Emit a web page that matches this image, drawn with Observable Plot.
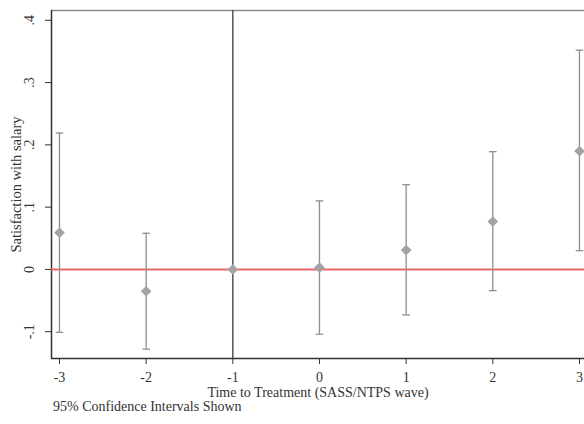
<!DOCTYPE html>
<html>
<head>
<meta charset="utf-8">
<script src="https://cdn.jsdelivr.net/npm/d3@7"></script>
<script src="https://cdn.jsdelivr.net/npm/@observablehq/plot@0.6"></script>
<style>
  html, body { margin: 0; padding: 0; background: #fff; }
  #chart { width: 584px; height: 424px; position: relative; font-family: "Liberation Serif", "DejaVu Serif", serif; }
  #caption { position: absolute; left: 53px; top: 399px; font-size: 14px; color: #333; white-space: nowrap; }
</style>
</head>
<body>
<div id="chart"></div>
<script>
// Data
const periods  = [-3, -2, -1, 0, 1, 2, 3];
const estimate = [0.059, -0.035, 0, 0.003, 0.031, 0.077, 0.190];
const ciLower  = [-0.101, -0.128, null, -0.104, -0.073, -0.034, 0.030];
const ciUpper  = [0.219, 0.058, null, 0.110, 0.136, 0.189, 0.352];
const yTicks   = [-0.1, 0, 0.1, 0.2, 0.3, 0.4];
const yTickLabels = ["-.1", "0", ".1", ".2", ".3", ".4"];
const xTicks   = [-3, -2, -1, 0, 1, 2, 3];
const treatmentLine = [-1];
const zeroLine = [0];
const xDomain = [-3.092, 3.058];
const yDomain = [-0.143, 0.4157];

const rows = periods.map((t, i) => ({t, est: estimate[i], lo: ciLower[i], hi: ciUpper[i]}));
const ciRows = rows.filter(d => d.lo != null);

const capSymbol = {
  draw(context, size) {
    const r = Math.sqrt(size / Math.PI);
    context.moveTo(-r, 0);
    context.lineTo(r, 0);
  }
};

const font = '"Liberation Serif", "DejaVu Serif", serif';

const chart = Plot.plot({
  width: 584,
  height: 404,
  marginLeft: 51,
  marginRight: 0,
  marginTop: 10,
  marginBottom: 46,
  style: {fontFamily: font, fontSize: "14px", color: "#333", background: "#fff"},
  x: {domain: xDomain, ticks: xTicks},
  y: {domain: yDomain, ticks: yTicks},
  marks: [
    Plot.ruleY([yDomain[1]], {stroke: "#8a8a8a", strokeWidth: 1.5}),
    Plot.ruleX([xDomain[0]], {stroke: "#333", strokeWidth: 1.5}),
    Plot.ruleY([yDomain[0]], {stroke: "#333", strokeWidth: 1.5}),
    Plot.axisX({
      ticks: xTicks, tickSize: 6, tickPadding: 8, tickFormat: d => String(d),
      stroke: "#333", fill: "#333", fontSize: 14,
      label: "Time to Treatment (SASS/NTPS wave)", labelAnchor: "center", labelArrow: "none", labelOffset: 38
    }),
    Plot.axisY({
      ticks: yTicks, tickSize: 6, tickPadding: 12, tickRotate: -90,
      tickFormat: d => yTickLabels[yTicks.findIndex(v => Math.abs(v - d) < 1e-9)],
      stroke: "#333", fill: "#333", fontSize: 14,
      label: null
    }),
    Plot.text(["Satisfaction with salary"], {
      frameAnchor: "left", dx: -35, rotate: -90, text: d => d,
      fontSize: 14.5, fill: "#333", textAnchor: "middle"
    }),
    Plot.ruleY(zeroLine, {stroke: "#e8686a", strokeWidth: 2}),
    Plot.ruleX(treatmentLine, {stroke: "#555", strokeWidth: 1.5}),
    Plot.ruleX(ciRows, {x: "t", y1: "lo", y2: "hi", stroke: "#8e8e8e", strokeWidth: 1.3}),
    Plot.dot(ciRows, {x: "t", y: "lo", symbol: capSymbol, r: 3.8, stroke: "#8e8e8e", strokeWidth: 1.3}),
    Plot.dot(ciRows, {x: "t", y: "hi", symbol: capSymbol, r: 3.8, stroke: "#8e8e8e", strokeWidth: 1.3}),
    Plot.dot(rows, {x: "t", y: "est", symbol: "diamond2", r: 4.8, fill: "#a3a3a7", stroke: "none"})
  ]
});

const wrap = document.getElementById("chart");
wrap.appendChild(chart);
const cap = document.createElement("div");
cap.id = "caption";
cap.textContent = "95% Confidence Intervals Shown";
wrap.appendChild(cap);
</script>
</body>
</html>
